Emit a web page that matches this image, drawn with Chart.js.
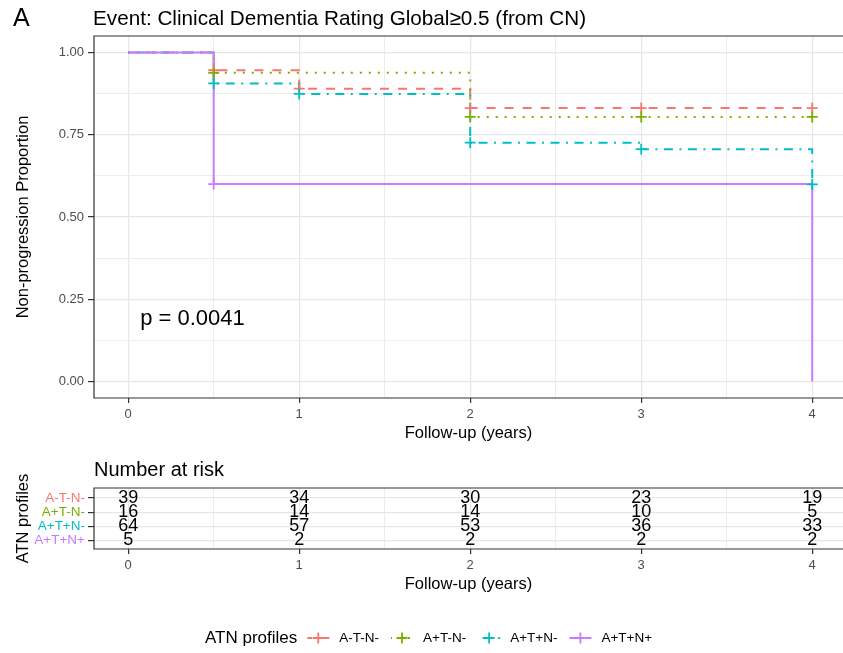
<!DOCTYPE html>
<html>
<head>
<meta charset="utf-8">
<script src="https://cdn.jsdelivr.net/npm/chart.js@4.4.1/dist/chart.umd.min.js"></script>
<style>
  html, body { margin: 0; padding: 0; background: #fff; overflow: hidden; }
  #wrap { position: relative; width: 843px; height: 653px; }
  canvas { position: absolute; left: 0; }
  #kmChart { top: 0; }
  #riskChart { top: 450px; }
</style>
</head>
<body>
<div id="wrap">
  <canvas id="kmChart" width="843" height="450"></canvas>
  <canvas id="riskChart" width="843" height="203"></canvas>
</div>
<script>
// groups
const groups = ["A-T-N-", "A+T-N-", "A+T+N-", "A+T+N+"];
const groupColors = ["#F8766D", "#7CAE00", "#00BFC4", "#C77CFF"];
const groupDash = [[9, 9], [2, 7], [2, 6.5, 9, 6.5], []];

// KM step curves
const timesATNneg = [0, 0.5, 1, 2, 4];
const survATNneg = [1, 0.946, 0.890, 0.831, 0.831];
const timesApTnNn = [0, 0.5, 2, 4];
const survApTnNn = [1, 0.938, 0.804, 0.804];
const timesApTpNn = [0, 0.5, 1, 2, 3, 4];
const survApTpNn = [1, 0.906, 0.874, 0.726, 0.706, 0.599];
const timesApTpNp = [0, 0.5, 4];
const survApTpNp = [1, 0.600, 0];

// censoring marks
const censTimesATNneg = [0.5, 1, 2, 3, 4];
const censSurvATNneg = [0.946, 0.890, 0.831, 0.831, 0.831];
const censTimesApTnNn = [0.5, 2, 3, 4];
const censSurvApTnNn = [0.938, 0.804, 0.804, 0.804];
const censTimesApTpNn = [0.5, 1, 2, 3, 4];
const censSurvApTpNn = [0.906, 0.874, 0.726, 0.706, 0.599];
const censTimesApTpNp = [0.5];
const censSurvApTpNp = [0.600];

// number at risk
const riskTimes = [0, 1, 2, 3, 4];
const riskATNneg = [39, 34, 30, 23, 19];
const riskApTnNn = [16, 14, 14, 10, 5];
const riskApTpNn = [64, 57, 53, 36, 33];
const riskApTpNp = [5, 2, 2, 2, 2];

// axes
const xGrid = [0, 0.5, 1, 1.5, 2, 2.5, 3, 3.5, 4];
const yGrid = [0, 0.125, 0.25, 0.375, 0.5, 0.625, 0.75, 0.875, 1];
const riskRows = [4, 3, 2, 1];

const plotTag = "A";
const plotTitle = "Event: Clinical Dementia Rating Global\u22650.5 (from CN)";
const pValueText = "p = 0.0041";

const FONT = "'Liberation Sans', Arial, sans-serif";
Chart.defaults.font.family = FONT;

const curveTimes = [timesATNneg, timesApTnNn, timesApTpNn, timesApTpNp];
const curveSurv = [survATNneg, survApTnNn, survApTpNn, survApTpNp];
const censTimes = [censTimesATNneg, censTimesApTnNn, censTimesApTpNn, censTimesApTpNp];
const censSurv = [censSurvATNneg, censSurvApTnNn, censSurvApTpNn, censSurvApTpNp];
const riskSeries = [riskATNneg, riskApTnNn, riskApTpNn, riskApTpNp];

function isMajor(v, step) {
  return Math.abs(v / step - Math.round(v / step)) < 1e-6;
}
function gridColor(step) {
  return c => (c.tick && !isMajor(c.tick.value, step)) ? "#ECECEC" : "#E6E6E6";
}
function gridWidth(step) {
  return c => (c.tick && !isMajor(c.tick.value, step)) ? 1 : 1.2;
}
function tickMarkColor(step) {
  return c => (c.tick && !isMajor(c.tick.value, step)) ? "rgba(0,0,0,0)" : "#333333";
}

function drawPanelBorder(ctx, a) {
  ctx.save();
  ctx.strokeStyle = "#333333";
  ctx.lineWidth = 1.2;
  ctx.beginPath();
  ctx.moveTo(a.right + 5, a.top);
  ctx.lineTo(a.left, a.top);
  ctx.lineTo(a.left, a.bottom);
  ctx.lineTo(a.right + 5, a.bottom);
  ctx.stroke();
  ctx.restore();
}

function followUpAxis() {
  return {
    type: "linear",
    min: -0.2,
    max: 4.18,
    afterBuildTicks: s => { s.ticks = xGrid.map(v => ({ value: v })); },
    afterFit: s => { s.height = 52; },
    border: { display: false },
    grid: {
      color: gridColor(1),
      lineWidth: gridWidth(1),
      tickLength: 5,
      tickColor: tickMarkColor(1),
      tickWidth: 1.2
    },
    ticks: {
      autoSkip: false,
      maxRotation: 0,
      padding: 4,
      color: "#4D4D4D",
      font: { size: 13 },
      callback: v => isMajor(v, 1) ? String(v) : ""
    },
    title: {
      display: true,
      text: "Follow-up (years)",
      color: "#000",
      font: { size: 16.5 },
      padding: { top: 0, bottom: 7 }
    }
  };
}

// ---- survival curves ----
const kmDatasets = [];
groups.forEach((g, i) => {
  kmDatasets.push({
    label: g,
    data: curveTimes[i].map((t, j) => ({ x: t, y: curveSurv[i][j] })),
    borderColor: groupColors[i],
    borderWidth: 2,
    borderDash: groupDash[i],
    stepped: true,
    fill: false,
    pointRadius: 0,
    order: 10 - i
  });
  kmDatasets.push({
    label: g + " censored",
    data: censTimes[i].map((t, j) => ({ x: t, y: censSurv[i][j] })),
    showLine: false,
    pointStyle: "cross",
    pointRadius: 5.5,
    pointBorderWidth: 1.8,
    pointBorderColor: groupColors[i],
    borderColor: groupColors[i],
    order: 4 - i
  });
});

const kmDecor = {
  id: "kmDecor",
  afterDraw(chart) {
    const { ctx, chartArea: a, scales: { x, y } } = chart;
    drawPanelBorder(ctx, a);
    ctx.save();
    ctx.fillStyle = "#000";
    ctx.textAlign = "left";
    ctx.textBaseline = "middle";
    ctx.font = "22px " + FONT;
    ctx.fillText(pValueText, x.getPixelForValue(0.07), y.getPixelForValue(0.19));
    ctx.font = "25px " + FONT;
    ctx.fillText(plotTag, 13, 19);
    ctx.font = "20.7px " + FONT;
    ctx.fillText(plotTitle, a.left - 1, 19);
    ctx.restore();
  }
};

new Chart(document.getElementById("kmChart").getContext("2d"), {
  type: "line",
  data: { datasets: kmDatasets },
  options: {
    responsive: false,
    animation: false,
    events: [],
    devicePixelRatio: 1,
    layout: { autoPadding: false, padding: { top: 36, left: 0, right: 0, bottom: 0 } },
    plugins: { legend: { display: false }, tooltip: { enabled: false } },
    scales: {
      x: followUpAxis(),
      y: {
        type: "linear",
        min: -0.05,
        max: 1.05,
        afterBuildTicks: s => { s.ticks = yGrid.map(v => ({ value: v })); },
        afterFit: s => { s.width = 94; },
        border: { display: false },
        grid: {
          color: gridColor(0.25),
          lineWidth: gridWidth(0.25),
          tickLength: 6,
          tickColor: tickMarkColor(0.25),
          tickWidth: 1.2
        },
        ticks: {
          autoSkip: false,
          padding: 4,
          color: "#4D4D4D",
          font: { size: 13 },
          callback: v => isMajor(v, 0.25) ? v.toFixed(2) : ""
        },
        title: {
          display: true,
          text: "Non-progression Proportion",
          color: "#000",
          font: { size: 16.5 },
          padding: { top: 14, bottom: 0 }
        }
      }
    }
  },
  plugins: [kmDecor]
});

// ---- number at risk table ----
const riskDatasets = groups.map((g, i) => ({
  label: g,
  data: riskTimes.map(t => ({ x: t, y: riskRows[i] })),
  showLine: false,
  pointRadius: 0
}));

const riskDecor = {
  id: "riskDecor",
  afterDatasetsDraw(chart) {
    const ctx = chart.ctx;
    ctx.save();
    ctx.fillStyle = "#000";
    ctx.textAlign = "center";
    ctx.textBaseline = "middle";
    ctx.font = "18px " + FONT;
    chart.data.datasets.forEach((ds, i) => {
      chart.getDatasetMeta(i).data.forEach((pt, j) => {
        ctx.fillText(String(riskSeries[i][j]), pt.x, pt.y);
      });
    });
    ctx.restore();
  },
  afterDraw(chart) {
    const { ctx, chartArea: a } = chart;
    drawPanelBorder(ctx, a);
    ctx.save();
    ctx.fillStyle = "#000";
    ctx.textAlign = "left";
    ctx.textBaseline = "middle";
    ctx.font = "20px " + FONT;
    ctx.fillText("Number at risk", a.left, 20);

    // legend
    const yMid = 188;
    let xPos = 205;
    ctx.font = "17px " + FONT;
    ctx.fillText("ATN profiles", xPos, yMid);
    xPos += ctx.measureText("ATN profiles").width + 10;
    groups.forEach((g, i) => {
      ctx.strokeStyle = groupColors[i];
      ctx.lineWidth = 2;
      ctx.setLineDash(groupDash[i]);
      ctx.lineDashOffset = i === 1 ? 1 : 4;
      ctx.beginPath();
      ctx.moveTo(xPos, yMid);
      ctx.lineTo(xPos + 22, yMid);
      ctx.stroke();
      ctx.setLineDash([]);
      ctx.lineWidth = 1.8;
      ctx.beginPath();
      ctx.moveTo(xPos + 11 - 5.5, yMid);
      ctx.lineTo(xPos + 11 + 5.5, yMid);
      ctx.moveTo(xPos + 11, yMid - 5.5);
      ctx.lineTo(xPos + 11, yMid + 5.5);
      ctx.stroke();
      xPos += 22 + 10;
      ctx.font = "13.5px " + FONT;
      ctx.fillText(g, xPos, yMid);
      xPos += ctx.measureText(g).width + 12;
    });
    ctx.restore();
  }
};

new Chart(document.getElementById("riskChart").getContext("2d"), {
  type: "scatter",
  data: { datasets: riskDatasets },
  options: {
    responsive: false,
    animation: false,
    events: [],
    devicePixelRatio: 1,
    layout: { autoPadding: false, padding: { top: 38, left: 0, right: 0, bottom: 52 } },
    plugins: { legend: { display: false }, tooltip: { enabled: false } },
    scales: {
      x: followUpAxis(),
      y: {
        type: "linear",
        min: 0.4,
        max: 4.7,
        afterBuildTicks: s => { s.ticks = riskRows.map(v => ({ value: v })); },
        afterFit: s => { s.width = 94; },
        border: { display: false },
        grid: {
          color: "#E6E6E6",
          lineWidth: 1.2,
          tickLength: 6,
          tickColor: "#333333",
          tickWidth: 1.2
        },
        ticks: {
          autoSkip: false,
          padding: 3,
          font: { size: 13.5 },
          color: c => groupColors[riskRows.indexOf(c.tick ? c.tick.value : 4)],
          callback: v => groups[riskRows.indexOf(v)]
        },
        title: {
          display: true,
          text: "ATN profiles",
          color: "#000",
          font: { size: 16.5 },
          padding: { top: 14, bottom: 0 }
        }
      }
    }
  },
  plugins: [riskDecor]
});
</script>
</body>
</html>
